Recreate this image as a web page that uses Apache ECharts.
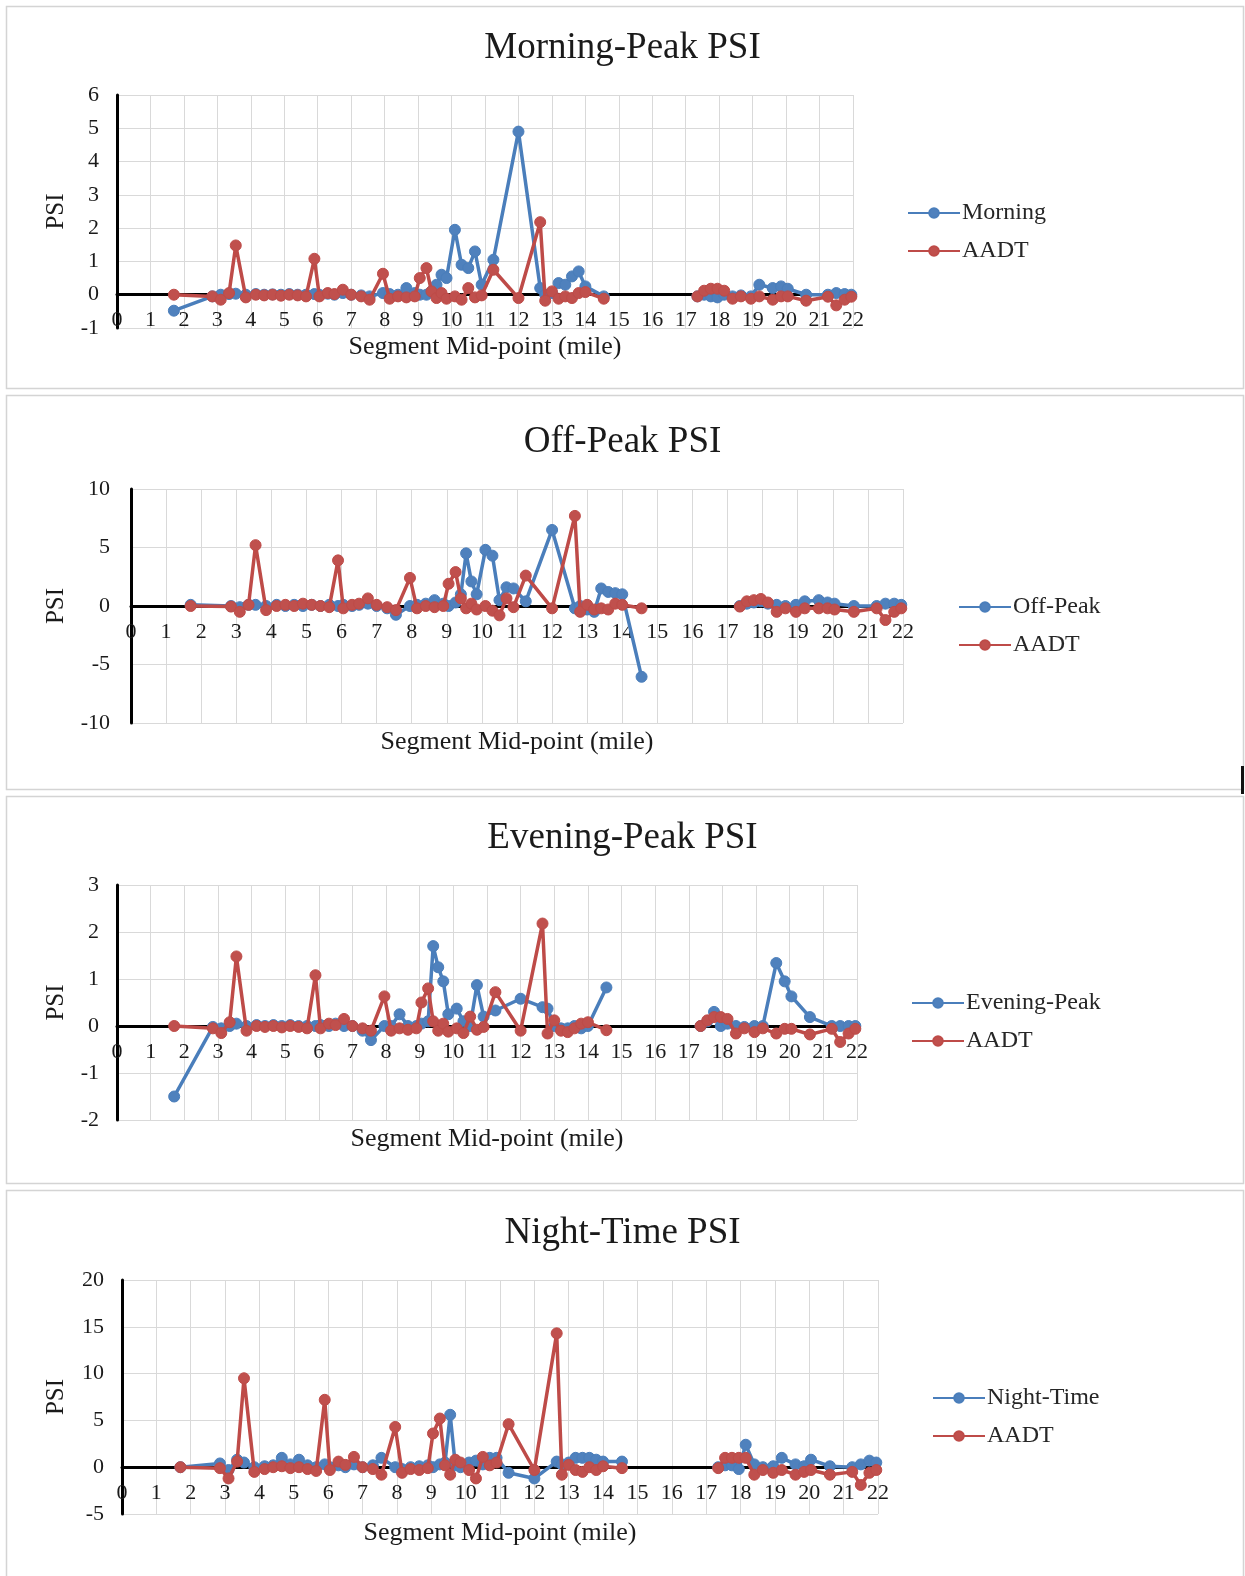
<!DOCTYPE html>
<html>
<head>
<meta charset="utf-8">
<title>Peak-period PSI along the corridor</title>
<script src="https://cdn.jsdelivr.net/npm/echarts@6/dist/echarts.min.js"></script>
<style>
  html, body { margin: 0; padding: 0; background: #ffffff; }
  #chart { width: 1245px; height: 1576px; }
</style>
</head>
<body>
<div id="chart"></div>
<script>
// Segment mid-points (mile) shared by every period
const mileposts = [
  1.70, 2.85, 3.10, 3.35, 3.55, 3.85, 4.15, 4.40, 4.65, 4.90,
  5.15, 5.40, 5.65, 5.90, 6.05, 6.30, 6.50, 6.75, 7.00, 7.30,
  7.55, 7.95, 8.15, 8.40, 8.65, 8.90, 9.05, 9.25, 9.40, 9.55,
  9.70, 9.85, 10.10, 10.30, 10.50, 10.70, 10.90, 11.25, 12.00, 12.65,
  12.80, 13.00, 13.20, 13.40, 13.60, 13.80, 14.00, 14.55, 17.35, 17.55,
  17.75, 17.95, 18.15, 18.40, 18.65, 18.95, 19.20, 19.60, 19.85, 20.05,
  20.60, 21.25, 21.50, 21.75, 21.95
];

// Morning peak
const morningPSI = [
  -0.48, -0.05, 0.00, 0.02, 0.03, 0.00, 0.02, 0.00, 0.01, 0.00,
  0.02, 0.00, 0.00, 0.02, 0.00, 0.03, 0.00, 0.05, 0.00, -0.02,
  -0.05, 0.05, 0.02, 0.00, 0.20, 0.05, 0.00, 0.00, 0.10, 0.30,
  0.60, 0.50, 1.95, 0.90, 0.80, 1.30, 0.30, 1.05, 4.90, 0.20,
  0.00, 0.05, 0.35, 0.30, 0.55, 0.70, 0.25, -0.05, -0.05, 0.00,
  -0.05, -0.08, 0.00, -0.05, -0.02, -0.05, 0.30, 0.20, 0.25, 0.18,
  0.00, 0.00, 0.05, 0.02, 0.00
];
const morningAADT = [
  0.00, -0.05, -0.15, 0.05, 1.48, -0.08, 0.00, -0.02, 0.00, -0.03,
  0.00, -0.02, -0.05, 1.08, -0.05, 0.05, 0.02, 0.15, 0.00, -0.05,
  -0.15, 0.63, -0.12, -0.05, -0.08, -0.05, 0.50, 0.80, 0.10, -0.10,
  0.05, -0.12, -0.05, -0.15, 0.20, -0.08, -0.02, 0.75, -0.10, 2.18,
  -0.18, 0.10, -0.12, -0.05, -0.10, 0.05, 0.08, -0.12, -0.05, 0.12,
  0.18, 0.18, 0.12, -0.12, -0.05, -0.12, -0.05, -0.15, -0.05, -0.05,
  -0.18, -0.06, -0.32, -0.15, -0.06
];

// Off peak
const offPeakPSI = [
  0.10, 0.00, -0.10, 0.10, 0.10, 0.00, 0.10, 0.00, 0.10, 0.00,
  0.10, 0.00, 0.10, 0.00, 0.10, 0.00, 0.10, 0.20, 0.00, -0.20,
  -0.75, 0.00, 0.10, 0.20, 0.50, 0.20, 0.00, 0.30, 1.00, 4.50,
  2.10, 1.00, 4.80, 4.30, 0.50, 1.60, 1.50, 0.40, 6.50, -0.20,
  0.00, -0.30, -0.50, 1.50, 1.20, 1.10, 1.00, -6.05, 0.00, 0.20,
  0.30, 0.40, 0.20, 0.10, 0.00, 0.10, 0.40, 0.50, 0.30, 0.20,
  0.00, 0.00, 0.20, 0.20, 0.10
];
const offPeakAADT = [
  0.00, -0.05, -0.50, 0.10, 5.20, -0.35, 0.00, 0.10, 0.00, 0.20,
  0.10, 0.00, -0.10, 3.90, -0.20, 0.10, 0.20, 0.65, 0.10, -0.10,
  -0.35, 2.40, -0.20, 0.00, -0.10, 0.00, 1.90, 2.90, 0.65, -0.20,
  0.20, -0.30, 0.00, -0.40, -0.80, 0.65, -0.10, 2.60, -0.20, 7.70,
  -0.50, 0.10, -0.30, -0.20, -0.30, 0.20, 0.10, -0.20, -0.05, 0.40,
  0.50, 0.60, 0.30, -0.50, -0.20, -0.50, -0.20, -0.20, -0.20, -0.30,
  -0.50, -0.20, -1.20, -0.50, -0.20
];

// Evening peak
const eveningPSI = [
  -1.50, -0.02, -0.05, 0.00, 0.05, 0.00, 0.02, 0.00, 0.02, 0.00,
  0.02, 0.00, 0.00, 0.00, 0.02, 0.00, 0.05, 0.00, 0.00, -0.10,
  -0.30, 0.00, 0.00, 0.25, 0.00, 0.00, 0.05, 0.10, 1.70, 1.25,
  0.95, 0.25, 0.37, 0.10, 0.00, 0.87, 0.20, 0.33, 0.58, 0.40,
  0.37, 0.00, -0.05, -0.05, 0.00, -0.05, 0.00, 0.82, 0.00, 0.10,
  0.30, 0.00, 0.05, 0.00, -0.02, 0.00, 0.00, 1.34, 0.95, 0.63,
  0.19, 0.00, 0.00, 0.00, 0.00
];
const eveningAADT = [
  0.00, -0.05, -0.15, 0.08, 1.48, -0.10, 0.00, -0.02, 0.00, -0.03,
  0.00, -0.02, -0.05, 1.08, -0.05, 0.05, 0.02, 0.15, 0.00, -0.05,
  -0.10, 0.63, -0.10, -0.05, -0.08, -0.05, 0.50, 0.80, 0.10, -0.10,
  0.05, -0.12, -0.05, -0.15, 0.20, -0.08, -0.02, 0.72, -0.10, 2.18,
  -0.16, 0.12, -0.10, -0.13, -0.05, 0.05, 0.08, -0.09, 0.00, 0.12,
  0.19, 0.19, 0.15, -0.16, -0.05, -0.13, -0.05, -0.16, -0.06, -0.06,
  -0.18, -0.06, -0.34, -0.16, -0.06
];

// Night time
const nightPSI = [
  0.00, 0.40, -0.30, 0.80, 0.50, 0.00, 0.10, 0.20, 1.00, 0.30,
  0.80, 0.20, 0.00, 0.30, 0.00, 0.20, 0.00, 0.30, 0.00, 0.20,
  1.00, 0.00, -0.20, 0.00, 0.10, 0.20, 0.00, 0.30, 0.50, 5.60,
  0.20, 0.00, 0.50, 0.70, 0.30, 1.00, 1.00, -0.60, -1.20, 0.60,
  0.30, 0.50, 1.00, 1.00, 1.00, 0.80, 0.60, 0.60, 0.00, 0.20,
  0.20, -0.20, 2.40, 0.30, 0.00, 0.10, 1.00, 0.30, 0.10, 0.80,
  0.10, 0.00, 0.30, 0.70, 0.50
];
const nightAADT = [
  0.00, -0.10, -1.20, 0.60, 9.50, -0.50, -0.20, 0.00, 0.10, -0.10,
  0.00, -0.20, -0.40, 7.20, -0.30, 0.60, 0.25, 1.10, 0.00, -0.20,
  -0.80, 4.30, -0.60, -0.20, -0.30, -0.10, 3.60, 5.20, 0.20, -0.80,
  0.80, 0.50, -0.30, -1.20, 1.10, 0.20, 0.50, 4.60, -0.30, 14.30,
  -0.80, 0.25, -0.30, -0.50, 0.00, -0.30, 0.10, -0.10, -0.10, 1.00,
  1.00, 1.00, 1.00, -0.80, -0.30, -0.60, -0.30, -0.80, -0.50, -0.30,
  -0.80, -0.50, -1.90, -0.60, -0.30
];

const titles = ['Morning-Peak PSI', 'Off-Peak PSI', 'Evening-Peak PSI', 'Night-Time PSI'];
const periodNames = ['Morning', 'Off-Peak', 'Evening-Peak', 'Night-Time'];
const periodPSI = [morningPSI, offPeakPSI, eveningPSI, nightPSI];
const periodAADT = [morningAADT, offPeakAADT, eveningAADT, nightAADT];
const yRanges = [[-1, 6, 1], [-10, 10, 5], [-2, 3, 1], [-5, 20, 5]];

// Layout of the four stacked panels
const layout = [
  { box: [6, 6, 1237, 382],    titleTop: 30,   grid: { left: 117, top: 95,   width: 736, height: 233 }, yMargin: 18, yNameGap: 48, xNameGap: 39,  legend: [907, 201] },
  { box: [6, 395, 1237, 394],  titleTop: 424,  grid: { left: 131, top: 489,  width: 772, height: 234 }, yMargin: 21, yNameGap: 62, xNameGap: 123, legend: [958, 595] },
  { box: [6, 796, 1237, 387],  titleTop: 820,  grid: { left: 117, top: 885,  width: 740, height: 235 }, yMargin: 18, yNameGap: 48, xNameGap: 100, legend: [911, 991] },
  { box: [6, 1190, 1237, 390], titleTop: 1215, grid: { left: 122, top: 1280, width: 756, height: 234 }, yMargin: 18, yNameGap: 53, xNameGap: 53,  legend: [932, 1386] }
];

const SERIF = '"Liberation Serif", "Times New Roman", serif';
const BLUE = '#4a7ebb', BLUE_FILL = '#4f81bd';
const RED = '#be4b48', RED_FILL = '#c0504d';

// Pair mile-posts with values; a long gap in the corridor breaks the line
function toPairs(values) {
  const out = [];
  mileposts.forEach((m, i) => {
    if (i > 0 && m - mileposts[i - 1] > 2) out.push([(m + mileposts[i - 1]) / 2, '-']);
    out.push([m, values[i]]);
  });
  return out;
}

const option = {
  animation: false,
  backgroundColor: '#ffffff',
  title: [], legend: [], grid: [], xAxis: [], yAxis: [], series: [],
  graphic: []
};

layout.forEach((p, k) => {
  const [yMin, yMax, yStep] = yRanges[k];
  // horizontal axis sits on the zero line, labels just below it
  const zeroLift = p.grid.height * (0 - yMin) / (yMax - yMin);

  option.graphic.push({
    type: 'rect', z: -10, silent: true,
    shape: { x: p.box[0] + 0.5, y: p.box[1] + 0.5, width: p.box[2], height: p.box[3] },
    style: { fill: '#ffffff', stroke: '#d4d4d4', lineWidth: 1.5 }
  });
  option.title.push({
    text: titles[k], left: 'center', top: p.titleTop, padding: 0,
    textStyle: { fontFamily: SERIF, fontSize: 37, fontWeight: 'normal', color: '#1a1a1a' }
  });
  option.legend.push({
    orient: 'vertical', left: p.legend[0], top: p.legend[1], padding: 0,
    itemWidth: 52, itemHeight: 12, itemGap: 14,
    data: [periodNames[k], 'AADT'],
    textStyle: { fontFamily: SERIF, fontSize: 24, color: '#262626', padding: [0, 0, 0, -3] }
  });
  option.grid.push(Object.assign({ containLabel: false }, p.grid));
  option.xAxis.push({
    type: 'value', gridIndex: k, min: 0, max: 22, interval: 1,
    position: 'bottom', offset: -zeroLift,
    name: 'Segment Mid-point (mile)', nameLocation: 'middle', nameGap: p.xNameGap,
    nameTextStyle: { fontFamily: SERIF, fontSize: 26, color: '#1a1a1a' },
    axisLine: { show: true, onZero: false, lineStyle: { color: '#000000', width: 3 } },
    axisTick: { show: false },
    axisLabel: { fontFamily: SERIF, fontSize: 22, color: '#1a1a1a', margin: 15, showMinLabel: true, showMaxLabel: true },
    splitLine: { show: true, lineStyle: { color: '#d9d9d9', width: 1 } }
  });
  option.yAxis.push({
    type: 'value', gridIndex: k, min: yMin, max: yMax, interval: yStep,
    name: 'PSI', nameLocation: 'middle', nameGap: p.yNameGap, nameRotate: 90,
    nameTextStyle: { fontFamily: SERIF, fontSize: 25, color: '#1a1a1a' },
    axisLine: { show: true, onZero: false, lineStyle: { color: '#000000', width: 3 } },
    axisTick: { show: false },
    axisLabel: { fontFamily: SERIF, fontSize: 22, color: '#1a1a1a', margin: p.yMargin },
    splitLine: { show: true, lineStyle: { color: '#d9d9d9', width: 1 } }
  });
  option.series.push({
    name: periodNames[k], type: 'line', xAxisIndex: k, yAxisIndex: k,
    data: toPairs(periodPSI[k]),
    symbol: 'circle', symbolSize: 11, showSymbol: true,
    lineStyle: { color: BLUE, width: 3.5 },
    itemStyle: { color: BLUE_FILL, borderColor: BLUE, borderWidth: 1 },
    z: 3
  });
  option.series.push({
    name: 'AADT', type: 'line', xAxisIndex: k, yAxisIndex: k,
    data: toPairs(periodAADT[k]),
    symbol: 'circle', symbolSize: 11, showSymbol: true,
    lineStyle: { color: RED, width: 3.5 },
    itemStyle: { color: RED_FILL, borderColor: RED, borderWidth: 1 },
    z: 4
  });
});

// short dark edge mark on the right border
option.graphic.push({
  type: 'rect', silent: true, z: 10,
  shape: { x: 1241, y: 766, width: 3, height: 28 },
  style: { fill: '#111111' }
});

const chart = echarts.init(document.getElementById('chart'), null, { renderer: 'canvas' });
chart.setOption(option);
</script>
</body>
</html>
